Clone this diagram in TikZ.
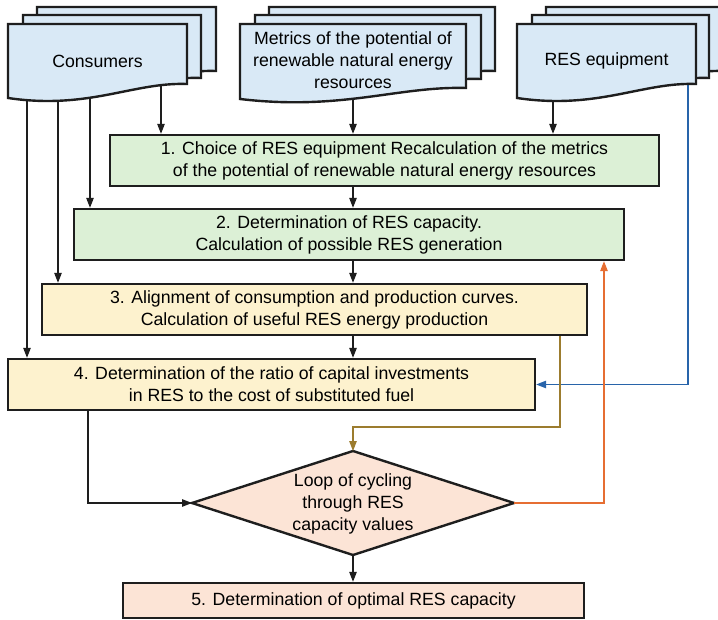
\documentclass[tikz,border=0pt]{standalone}
\usepackage{fontspec}
\setmainfont{Liberation Sans}
\usetikzlibrary{arrows.meta,calc}
\definecolor{sheetfill}{HTML}{D9E9F6}
\definecolor{greenfill}{HTML}{DCF0D6}
\definecolor{yellowfill}{HTML}{FDF2CE}
\definecolor{peachfill}{HTML}{FCE4D6}
\definecolor{bordercol}{HTML}{1E1E1E}
\definecolor{bluecol}{HTML}{2864AA}
\definecolor{olivecol}{HTML}{9C7C2E}
\definecolor{orangecol}{HTML}{E66E32}
\newcommand\mysheet[5]{\filldraw[sheet] (#1,#2) -- (#3,#2) -- (#3,#4) .. controls ({#3-0.3*(#3-#1)},{#4-2}) and ({#1+0.45*(#3-#1)},{#5+12}) .. (#1,#5) -- cycle;}
\tikzset{
  txt/.style={font=\fontsize{17.7pt}{22pt}\selectfont, align=center, inner sep=0pt},
  box/.style={draw=bordercol, line width=2.4pt, inner sep=0pt, font=\fontsize{17.7pt}{22pt}\selectfont, align=center},
  greenbox/.style={box, fill=greenfill},
  yellowbox/.style={box, fill=yellowfill},
  peachbox/.style={box, fill=peachfill},
  sheet/.style={draw=bordercol, line width=2.4pt, fill=sheetfill, line join=miter},
  arr/.style={draw=bordercol, line width=1.2pt, -{Triangle[length=10pt,width=7.5pt]}},
  bluearr/.style={arr, draw=bluecol},
  olivearr/.style={arr, draw=olivecol},
  orangearr/.style={arr, draw=orangecol},
}
\begin{document}
\begin{tikzpicture}[x=1pt,y=-1pt]
\useasboundingbox (0,0) rectangle (718,620);
\fill[white] (0,0) rectangle (718,620);

% process boxes
\node[greenbox, minimum width=549pt, minimum height=51pt] (b1) at (384.5,160.5)
  {1. Choice of RES equipment Recalculation of the metrics\\of the potential of renewable natural energy resources};
\node[greenbox, minimum width=550pt, minimum height=51pt] (b2) at (349,234.5)
  {2. Determination of RES capacity.\\Calculation of possible RES generation};
\node[yellowbox, minimum width=545pt, minimum height=51pt] (b3) at (314.5,309.5)
  {3. Alignment of consumption and production curves.\\Calculation of useful RES energy production};
\node[yellowbox, minimum width=527pt, minimum height=51pt] (b4) at (271.5,384.5)
  {4. Determination of the ratio of capital investments\\in RES to the cost of substituted fuel};
\node[peachbox, minimum width=461pt, minimum height=35pt] (b5) at (353.5,600.5)
  {5. Determination of optimal RES capacity};

% decision diamond
\coordinate (diaW) at (192,503);
\coordinate (diaN) at (353,451);
\coordinate (diaE) at (514,503);
\coordinate (diaS) at (353,555);
\filldraw[draw=bordercol, line width=2.4pt, fill=peachfill, line join=miter] (diaW) -- (diaN) -- (diaE) -- (diaS) -- cycle;
\node[txt] (dia) at (353,504) {Loop of cycling\\through RES\\capacity values};

% helper coordinates
\coordinate (spine) at (353,0);
\coordinate (ca) at (27,90);
\coordinate (cb) at (58,90);
\coordinate (cc) at (90,90);
\coordinate (cd) at (161,80);
\coordinate (ma) at (353,85);
\coordinate (ea) at (553,90);
\coordinate (eb) at (688,78);
\coordinate (lb) at (88,0);
\coordinate (olv) at (560,427);
\coordinate (orx) at (604,0);

% connectors
\draw[arr] (ca) -- (ca |- b4.north);
\draw[arr] (cb) -- (cb |- b3.north);
\draw[arr] (cc) -- (cc |- b2.north);
\draw[arr] (cd) -- (cd |- b1.north);
\draw[arr] (ma) -- (ma |- b1.north);
\draw[arr] (ea) -- (ea |- b1.north);
\draw[arr] (b1.south -| spine) -- (b2.north -| spine);
\draw[arr] (b2.south -| spine) -- (b3.north -| spine);
\draw[arr] (b3.south -| spine) -- (b4.north -| spine);
\draw[arr] (b4.south -| lb) |- (diaW);
\draw[arr] (diaS) -- (diaS |- b5.north);
\draw[bluearr] (eb) |- (b4.east);
\draw[olivearr] (b3.south -| olv) -- (olv) -| (diaN);
\draw[orangearr] (diaE) -| (orx |- b2.south);

% document stacks
\mysheet{37}{7}{216}{71}{86}
\mysheet{23}{15}{201}{78}{90}
\mysheet{8}{24}{187}{84}{98}
\mysheet{269}{7}{495}{71}{86}
\mysheet{255}{15}{481}{79}{92}
\mysheet{240}{24}{466}{88}{99}
\mysheet{546}{7}{725}{71}{86}
\mysheet{532}{15}{709}{78}{90}
\mysheet{517}{24}{696}{84}{98}

\node[txt] (cons) at (97.5,61) {Consumers};
\node[txt] (metr) at (353,60) {Metrics of the potential of\\renewable natural energy\\resources};
\node[txt] (equip) at (606.5,61) {RES equipment};
\end{tikzpicture}
\end{document}
